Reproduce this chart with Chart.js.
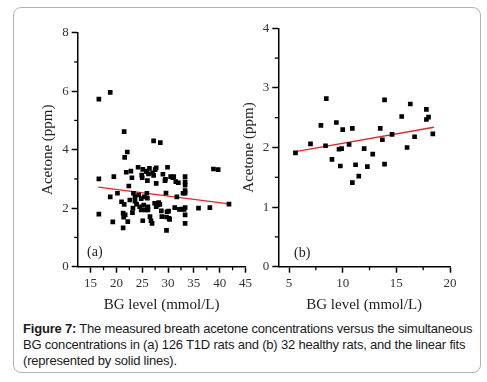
<!DOCTYPE html>
<html>
<head>
  <title>Breath acetone vs BG</title>
  <style>
    body {
      margin: 0;
      background: #fff;
    }
    #wrap {
      position: relative;
      width: 487px;
      height: 382px;
      overflow: hidden;
    }
    #frame {
      position: absolute;
      left: 13px;
      top: 7px;
      width: 466px;
      height: 364px;
      border: 1.5px solid #b4b4b4;
      border-radius: 8px;
    }
    canvas {
      position: absolute;
      top: 0;
    }
    #chartA { left: 0; }
    #chartB { left: 235px; }
    .tag {
      position: absolute;
      font-family: "Liberation Serif", serif;
      font-size: 14px;
      color: #222;
    }
    #caption {
      position: absolute;
      left: 23px;
      top: 321px;
      width: 458px;
      font-family: "Liberation Sans", Arial, sans-serif;
      font-size: 13px;
      line-height: 16px;
      color: #1a1a1a;
      letter-spacing: -0.2px;
    }
  </style>
</head>
<body>
  <div id="wrap">
    <div id="frame"></div>
    <canvas id="chartA" width="255" height="320"></canvas>
    <canvas id="chartB" width="252" height="320"></canvas>
    <div class="tag" style="left:87px; top:244px;">(a)</div>
    <div class="tag" style="left:294px; top:245px;">(b)</div>
    <div id="caption"><b>Figure 7:</b> The measured breath acetone concentrations versus the simultaneous BG concentrations in (a) 126 T1D rats and (b) 32 healthy rats, and the linear fits (represented by solid lines).</div>
  </div>

  <script src="https://cdn.jsdelivr.net/npm/chart.js"></script>

  <script>
    // (a) T1D rats
    const bgA = [16.6, 18.8, 21.5, 27.2, 28.5, 21.6, 22.1, 16.6, 16.6, 19.5,
                 18.8, 19.3, 20.2, 21.0, 21.3, 21.7, 21.5, 21.9, 22.2, 21.3,
                 22.4, 22.8, 23.0, 23.1, 23.3, 23.6, 23.6, 23.9, 24.2, 24.3,
                 24.8, 24.9, 25.1, 24.8, 25.4, 25.3, 25.9, 26.2, 26.4, 25.9,
                 26.0, 26.1, 26.1, 26.7, 26.9, 27.0, 27.2, 27.5, 27.7, 27.4,
                 27.7, 28.1, 28.4, 28.7, 29.0, 29.4, 29.6, 29.7, 29.9, 30.1,
                 29.7, 30.2, 31.1, 31.5, 31.7, 31.3, 32.2, 33.1, 33.3, 33.3,
                 33.3, 33.3, 33.3, 33.3, 33.3, 33.3, 32.0, 32.9, 35.9, 38.1,
                 38.8, 39.7, 41.8, 22.6, 23.2, 24.5, 25.0, 25.1, 25.6, 25.8,
                 26.0, 26.5, 27.7, 28.0, 28.8, 29.8, 30.3, 30.5, 30.9, 32.6,
                 21.4, 28.2, 29.5];
    const acetoneA = [5.73, 5.96, 4.62, 4.30, 4.24, 3.74, 3.92, 3.00, 1.80, 3.08,
                      2.39, 1.53, 2.51, 2.22, 1.83, 1.77, 2.13, 3.23, 1.54, 1.33,
                      2.76, 3.27, 3.04, 1.85, 2.51, 2.39, 2.24, 2.14, 3.40, 2.45,
                      2.33, 3.13, 3.33, 1.94, 2.39, 2.11, 3.27, 3.17, 3.36, 2.51,
                      2.34, 2.05, 1.94, 1.57, 1.48, 3.21, 3.12, 3.32, 3.38, 2.17,
                      2.05, 2.17, 2.13, 1.91, 3.16, 2.94, 2.52, 1.24, 3.40, 1.90,
                      1.70, 1.65, 3.08, 2.91, 2.39, 2.02, 1.96, 1.96, 3.08, 2.90,
                      2.79, 2.60, 2.51, 2.02, 1.77, 1.48, 2.87, 2.51, 2.00, 2.02,
                      3.34, 3.32, 2.14, 2.28, 2.00, 2.05, 3.04, 1.57, 1.94, 3.25,
                      2.94, 1.71, 2.85, 2.11, 1.71, 1.88, 1.62, 3.08, 3.04, 1.97,
                      1.69, 2.19, 2.99];
    const fitBgA = [16.5, 41.8];
    const fitAcetoneA = [2.72, 2.15];

    // (b) healthy rats
    const bgB = [5.6, 7.0, 7.97, 8.4, 8.47, 9.0, 9.41, 9.66, 9.9, 9.78,
                 10.0, 10.6, 10.9, 10.9, 11.2, 11.5, 12.0, 12.3, 12.8, 13.5,
                 13.7, 13.9, 13.9, 14.6, 15.5, 16.0, 16.3, 16.7, 17.8, 17.8,
                 18.0, 18.4];
    const acetoneB = [1.91, 2.06, 2.37, 2.03, 2.82, 1.80, 2.42, 1.97, 1.98, 1.69,
                      2.30, 2.05, 2.32, 1.41, 1.71, 1.52, 1.98, 1.68, 1.89, 2.32,
                      2.13, 2.80, 1.72, 2.22, 2.52, 2.00, 2.73, 2.18, 2.64, 2.47,
                      2.51, 2.23];
    const fitBgB = [5.6, 18.5];
    const fitAcetoneB = [1.93, 2.34];

    // axis ticks
    const xTicksA = [15, 20, 25, 30, 35, 40, 45];
    const yTicksA = [0, 2, 4, 6, 8];
    const xTicksB = [5, 10, 15, 20];
    const yTicksB = [0, 1, 2, 3, 4];

    const serif = '"Liberation Serif", "Times New Roman", serif';

    // short ticks halfway between the labelled ones
    const minorTicks = {
      id: 'minorTicks',
      afterDraw(chart) {
        const ctx = chart.ctx;
        ctx.save();
        ctx.strokeStyle = '#000';
        ctx.lineWidth = 1.3;
        Object.values(chart.scales).forEach(scale => {
          const t = scale.ticks;
          for (let i = 0; i < t.length - 1; i++) {
            const p = scale.getPixelForValue((t[i].value + t[i + 1].value) / 2);
            ctx.beginPath();
            if (scale.isHorizontal()) {
              ctx.moveTo(p, scale.top);
              ctx.lineTo(p, scale.top + 3.5);
            } else {
              ctx.moveTo(scale.right, p);
              ctx.lineTo(scale.right - 3.5, p);
            }
            ctx.stroke();
          }
        });
        ctx.restore();
      }
    };

    function toPoints(xs, ys) {
      return xs.map((x, i) => ({ x: x, y: ys[i] }));
    }

    function axis(min, max, ticks, title, fixedSize, titlePad) {
      return {
        type: 'linear',
        min: min,
        max: max,
        afterBuildTicks: s => { s.ticks = ticks.map(v => ({ value: v })); },
        afterFit: s => {
          if (s.isHorizontal()) s.height = fixedSize;
          else s.width = fixedSize;
        },
        border: { display: true, color: '#000', width: 1.5 },
        grid: {
          display: true,
          drawOnChartArea: false,
          drawTicks: true,
          tickLength: 6,
          tickColor: '#000',
          tickWidth: 1.5
        },
        ticks: {
          padding: 3,
          color: '#333',
          font: { family: serif, size: 13 }
        },
        title: {
          display: true,
          text: title,
          color: '#222',
          font: { family: serif, size: 15 },
          padding: titlePad
        }
      };
    }

    function makeChart(id, xs, ys, fx, fy, xScale, yScale, pad) {
      return new Chart(document.getElementById(id).getContext('2d'), {
        type: 'scatter',
        data: {
          datasets: [
            {
              data: toPoints(xs, ys),
              pointStyle: 'rect',
              pointRadius: 3.3,
              backgroundColor: '#000',
              borderColor: '#000',
              borderWidth: 0
            },
            {
              type: 'line',
              data: toPoints(fx, fy),
              borderColor: '#e0282a',
              borderWidth: 1.3,
              pointRadius: 0,
              fill: false
            }
          ]
        },
        options: {
          responsive: false,
          animation: false,
          layout: { padding: pad },
          plugins: { legend: { display: false }, tooltip: { enabled: false } },
          scales: { x: xScale, y: yScale }
        },
        plugins: [minorTicks]
      });
    }

    makeChart('chartA', bgA, acetoneA, fitBgA, fitAcetoneA,
      axis(12.5, 45, xTicksA, 'BG level (mmol/L)', 53.3, { top: 0, bottom: 6 }),
      axis(0, 8, yTicksA, 'Acetone (ppm)', 77.7, { top: 39, bottom: 0 }),
      { left: 0, top: 32.7, right: 8.3, bottom: 0 });

    makeChart('chartB', bgB, acetoneB, fitBgB, fitAcetoneB,
      axis(4, 20, xTicksB, 'BG level (mmol/L)', 53.3, { top: 0, bottom: 6 }),
      axis(0, 4, yTicksB, 'Acetone (ppm)', 43.3, { top: 5, bottom: 0 }),
      { left: 0, top: 28.3, right: 37, bottom: 0 });
  </script>
</body>
</html>
